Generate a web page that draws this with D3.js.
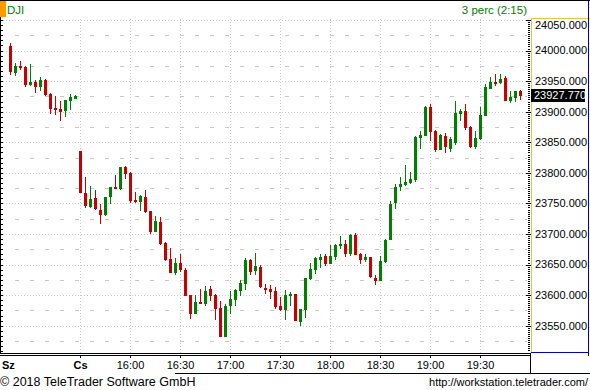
<!DOCTYPE html>
<html>
<head>
<meta charset="utf-8">
<script src="https://cdn.jsdelivr.net/npm/d3@7"></script>
<style>
body { margin: 0; background: #fff; }
svg { display: block; font-family: "Liberation Sans", Arial, sans-serif; }
</style>
</head>
<body>
<div id="chart"></div>
<script>
// 3 minute candles, DJI, last part of Wednesday (Sz) + Thursday (Cs)
var open = [24007.5, 23965.4, 23974.8, 23973.1, 23945.3, 23948.6, 23942.0, 23951.9, 23929.0, 23906.5, 23903.9, 23903.3, 23919.6, 23922.9,
    23835.7, 23767.5, 23745.8, 23758.9, 23739.7, 23733.2, 23762.6, 23776.8, 23775.2, 23809.6, 23799.7, 23755.6, 23754.4, 23760.5, 23738.1,
    23705.4, 23720.1, 23685.3, 23659.1, 23638.3, 23652.5, 23641.1, 23600.2, 23571.2, 23588.7, 23587.6, 23610.0, 23600.7, 23578.9, 23533.1,
    23583.8, 23593.7, 23608.4, 23619.8, 23657.4, 23641.1, 23646.0, 23611.6, 23610.0, 23606.7, 23582.2, 23577.8, 23600.2, 23601.8, 23558.2,
    23577.8, 23628.0, 23642.7, 23659.1, 23664.0, 23652.5, 23664.0, 23682.0, 23683.6, 23668.9, 23698.3, 23667.3, 23659.1, 23662.3, 23628.0,
    23624.7, 23655.8, 23691.8, 23752.3, 23778.5, 23781.7, 23785.0, 23789.9, 23858.6, 23861.9, 23907.7, 23868.4, 23839.0, 23860.3, 23840.6,
    23850.4, 23897.9, 23901.1, 23875.0, 23843.9, 23857.0, 23894.6, 23938.8, 23948.6, 23948.6, 23955.1, 23919.1, 23924.0, 23933.9];
var high = [24012.4, 23980.1, 23982.9, 23974.8, 23978.0, 23951.9, 23956.8, 23953.0, 23930.6, 23925.7, 23918.0, 23919.1, 23929.0, 23926.8,
    23835.7, 23793.7, 23778.5, 23771.9, 23749.0, 23760.5, 23776.8, 23796.5, 23809.6, 23811.7, 23801.4, 23768.7, 23763.8, 23771.9, 23738.1,
    23729.9, 23728.3, 23686.9, 23677.1, 23660.7, 23667.3, 23644.4, 23600.2, 23600.2, 23610.0, 23614.9, 23614.9, 23602.3, 23590.4, 23586.0,
    23606.7, 23610.0, 23624.7, 23660.7, 23659.1, 23668.9, 23649.3, 23618.2, 23616.6, 23613.3, 23596.9, 23608.4, 23605.1, 23601.8, 23577.3,
    23628.0, 23652.5, 23662.3, 23667.3, 23667.3, 23682.0, 23683.6, 23696.7, 23690.2, 23700.0, 23701.6, 23668.9, 23667.3, 23662.3, 23632.9,
    23664.0, 23691.8, 23753.9, 23781.7, 23793.2, 23812.8, 23801.4, 23860.3, 23868.4, 23909.3, 23912.6, 23870.1, 23863.5, 23865.2, 23858.6,
    23917.5, 23904.4, 23912.6, 23876.6, 23868.4, 23907.7, 23945.3, 23956.8, 23961.7, 23961.7, 23958.4, 23933.9, 23933.9, 23935.5];
var low = [23962.2, 23960.5, 23969.4, 23942.5, 23943.7, 23932.7, 23936.0, 23927.3, 23898.4, 23896.7, 23886.9, 23893.5, 23904.4, 23922.9,
    23769.2, 23744.6, 23744.6, 23740.9, 23718.4, 23731.5, 23750.7, 23775.2, 23773.6, 23792.1, 23752.3, 23752.3, 23739.7, 23735.5, 23702.1,
    23705.4, 23684.1, 23657.9, 23638.3, 23635.0, 23639.5, 23600.7, 23563.1, 23571.2, 23587.6, 23584.3, 23592.0, 23561.4, 23533.1, 23533.1,
    23571.2, 23584.3, 23600.2, 23610.5, 23635.0, 23634.5, 23613.3, 23603.5, 23595.3, 23579.4, 23576.2, 23561.4, 23583.8, 23559.8, 23551.6,
    23564.7, 23626.4, 23636.2, 23646.0, 23649.3, 23652.5, 23659.1, 23677.1, 23664.0, 23665.6, 23667.3, 23652.5, 23655.8, 23629.6, 23618.2,
    23624.7, 23654.2, 23691.8, 23742.5, 23771.9, 23780.1, 23783.4, 23786.7, 23840.6, 23861.9, 23853.7, 23835.7, 23839.0, 23834.1, 23835.7,
    23847.2, 23886.4, 23871.7, 23842.3, 23840.6, 23855.4, 23894.6, 23938.8, 23943.7, 23946.9, 23919.1, 23915.9, 23917.5, 23920.8];
var close = [23967.1, 23974.8, 23972.6, 23945.3, 23948.6, 23942.5, 23951.4, 23929.0, 23906.5, 23904.9, 23901.6, 23919.1, 23924.0, 23925.2,
    23769.2, 23747.4, 23757.2, 23742.5, 23733.2, 23760.5, 23776.8, 23775.2, 23809.6, 23800.2, 23755.6, 23753.5, 23762.1, 23738.1, 23705.4,
    23721.7, 23685.7, 23659.6, 23638.3, 23652.5, 23642.7, 23600.7, 23571.2, 23588.7, 23587.6, 23606.7, 23600.2, 23579.4, 23533.1, 23582.7,
    23593.7, 23608.4, 23619.8, 23657.4, 23639.5, 23647.6, 23614.9, 23610.0, 23606.7, 23582.2, 23577.8, 23600.2, 23601.8, 23559.8, 23577.3,
    23628.0, 23642.7, 23660.7, 23662.3, 23652.5, 23664.0, 23682.0, 23683.6, 23668.9, 23698.3, 23667.3, 23659.1, 23662.3, 23631.3, 23624.7,
    23655.8, 23690.2, 23749.0, 23776.8, 23781.7, 23785.0, 23789.9, 23858.6, 23861.9, 23907.7, 23868.4, 23839.0, 23861.9, 23843.9, 23855.4,
    23897.9, 23901.1, 23875.0, 23843.9, 23857.0, 23894.6, 23940.4, 23948.6, 23946.9, 23953.5, 23919.1, 23924.0, 23933.9, 23927.77];

var timeLabels = ["Sz", "Cs", "16:00", "16:30", "17:00", "17:30", "18:00", "18:30", "19:00", "19:30"];
var timeIndex  = [0, 14, 24, 34, 44, 54, 64, 74, 84, 94];
var priceTicks = [23550, 23600, 23650, 23700, 23750, 23800, 23850, 23900, 23950, 24000, 24050];
var lastPrice = 23927.77;

var W = 590, H = 390,
    plotTop = 17, plotBottom = 353;
var red = "#c80000", green = "#008000", grid = "#c8c8c8";

var svg = d3.select("#chart").append("svg")
    .attr("width", W).attr("height", H);

var x = d3.scaleLinear().domain([0, 102]).range([10.5, 520.5]);
var y = d3.scaleLinear().domain([23550, 24050]).range([325.7, 20]);
var py = function(v) { return Math.round(y(v)) + 0.5; };
var inPlot = function(v) { return y(v) >= plotTop + 2 && y(v) <= plotBottom - 1; };

// top frame + header
svg.append("line").attr("x1", 0).attr("x2", W).attr("y1", 0.5).attr("y2", 0.5).attr("stroke", "#000");
svg.append("rect").attr("x", 0).attr("y", 1).attr("width", 6).attr("height", 16).attr("fill", "#ff9900");
svg.append("text").attr("x", 7).attr("y", 13.5).attr("fill", green).style("font-size", "11.5px").text("DJI");
svg.append("text").attr("x", 527).attr("y", 13.5).attr("fill", green).attr("text-anchor", "end")
    .style("font-size", "11.5px").text("3 perc (2:15)");

// grid
var minor = d3.range(23525, 24050, 50);
svg.append("g").selectAll("line").data(minor).enter().append("line")
    .attr("x1", 15).attr("x2", 527).attr("y1", py).attr("y2", py)
    .attr("stroke", grid).attr("stroke-dasharray", "4,11");
svg.append("g").selectAll("line").data(priceTicks).enter().append("line")
    .attr("x1", 3).attr("x2", 527).attr("y1", py).attr("y2", py)
    .attr("stroke", grid).attr("stroke-dasharray", "1,2");
svg.append("g").selectAll("line").data(timeIndex.slice(1)).enter().append("line")
    .attr("x1", function(d) { return Math.floor(x(d)) + 0.5; })
    .attr("x2", function(d) { return Math.floor(x(d)) + 0.5; })
    .attr("y1", plotTop + 2).attr("y2", plotBottom)
    .attr("stroke", grid).attr("stroke-dasharray", "1,2");

// left scale ticks
svg.append("line").attr("x1", 0.5).attr("x2", 0.5).attr("y1", plotTop).attr("y2", plotBottom).attr("stroke", "#000");
svg.append("g").selectAll("line")
    .data(d3.range(0, 70).map(function(i) { return 24050 - i * 50 / 6; }).filter(inPlot))
    .enter().append("line")
    .attr("x1", 0).attr("x2", 3).attr("y1", py).attr("y2", py).attr("stroke", "#000");

// candles
var idx = d3.range(open.length);
var candles = svg.append("g").selectAll("g").data(idx).enter().append("g");
candles.append("line")
    .attr("x1", function(i) { return Math.floor(x(i)) + 0.5; })
    .attr("x2", function(i) { return Math.floor(x(i)) + 0.5; })
    .attr("y1", function(i) { return Math.round(y(high[i])); })
    .attr("y2", function(i) { return Math.round(y(low[i])) + 1; })
    .attr("stroke", function(i) { return close[i] < open[i] ? red : green; });
candles.append("rect")
    .attr("x", function(i) { return Math.floor(x(i)) - 1; })
    .attr("width", 3)
    .attr("y", function(i) { return Math.round(y(Math.max(open[i], close[i]))); })
    .attr("height", function(i) {
        return Math.max(1, Math.round(y(Math.min(open[i], close[i]))) - Math.round(y(Math.max(open[i], close[i]))) + 1);
    })
    .attr("fill", function(i) { return close[i] < open[i] ? red : green; });

// right price axis
svg.append("g").selectAll("line")
    .data(d3.range(0, 180).map(function(i) { return 24060 - i * 50 / 15; }).filter(inPlot))
    .enter().append("line")
    .attr("x1", 528).attr("x2", 530).attr("y1", py).attr("y2", py).attr("stroke", "#000");
svg.append("g").selectAll("line").data(priceTicks).enter().append("line")
    .attr("x1", 526).attr("x2", 531).attr("y1", py).attr("y2", py).attr("stroke", "#000");
svg.append("line").attr("x1", 531.5).attr("x2", 531.5).attr("y1", 18).attr("y2", 352).attr("stroke", "#f0c040");
svg.append("line").attr("x1", 531).attr("x2", 590).attr("y1", 18.5).attr("y2", 18.5).attr("stroke", "#f0c040");
svg.append("line").attr("x1", 588.5).attr("x2", 588.5).attr("y1", 1).attr("y2", 356).attr("stroke", "#0000c0");
svg.append("line").attr("x1", 531).attr("x2", 589).attr("y1", 352.5).attr("y2", 352.5).attr("stroke", "#0000c0");
svg.append("g").selectAll("text").data(priceTicks).enter().append("text")
    .attr("x", 535).attr("y", function(d) { return Math.max(y(d), 25); })
    .attr("dy", "0.35em").style("font-size", "11px").attr("fill", "#000")
    .text(function(d) { return d3.format(".3f")(d); });
svg.append("rect").attr("x", 531).attr("y", Math.round(y(lastPrice)) - 6).attr("width", 54).attr("height", 13).attr("fill", "#000");
svg.append("text").attr("x", 534).attr("y", y(lastPrice)).attr("dy", "0.35em")
    .style("font-size", "11px").attr("fill", "#fff").text(d3.format(".3f")(lastPrice));

// time axis
svg.append("line").attr("x1", 0).attr("x2", 531).attr("y1", 353.5).attr("y2", 353.5).attr("stroke", "#000");
svg.append("line").attr("x1", 0).attr("x2", 531).attr("y1", 355.5).attr("y2", 355.5).attr("stroke", "#000");
svg.append("g").selectAll("line").data(timeIndex.slice(1)).enter().append("line")
    .attr("x1", function(d) { return Math.floor(x(d)) + 0.5; })
    .attr("x2", function(d) { return Math.floor(x(d)) + 0.5; })
    .attr("y1", 355).attr("y2", 358).attr("stroke", "#000");
svg.append("g").selectAll("text").data(timeIndex).enter().append("text")
    .attr("x", function(d, i) { return i === 0 ? 2 : x(d); })
    .attr("y", 369)
    .attr("text-anchor", function(d, i) { return i === 0 ? "start" : "middle"; })
    .style("font-size", "11px")
    .style("font-weight", function(d, i) { return i < 2 ? "bold" : "normal"; })
    .text(function(d, i) { return timeLabels[i]; });
svg.append("line").attr("x1", 530.5).attr("x2", 530.5).attr("y1", 353).attr("y2", 374).attr("stroke", "#000");
svg.append("line").attr("x1", 175).attr("x2", W).attr("y1", 373.5).attr("y2", 373.5).attr("stroke", "#000");

// footer
svg.append("text").attr("x", 0).attr("y", 386).style("font-size", "12.5px").text("© 2018 TeleTrader Software GmbH");
svg.append("text").attr("x", 588).attr("y", 386).attr("text-anchor", "end").style("font-size", "11px")
    .text("http://workstation.teletrader.com/");
</script>
</body>
</html>
